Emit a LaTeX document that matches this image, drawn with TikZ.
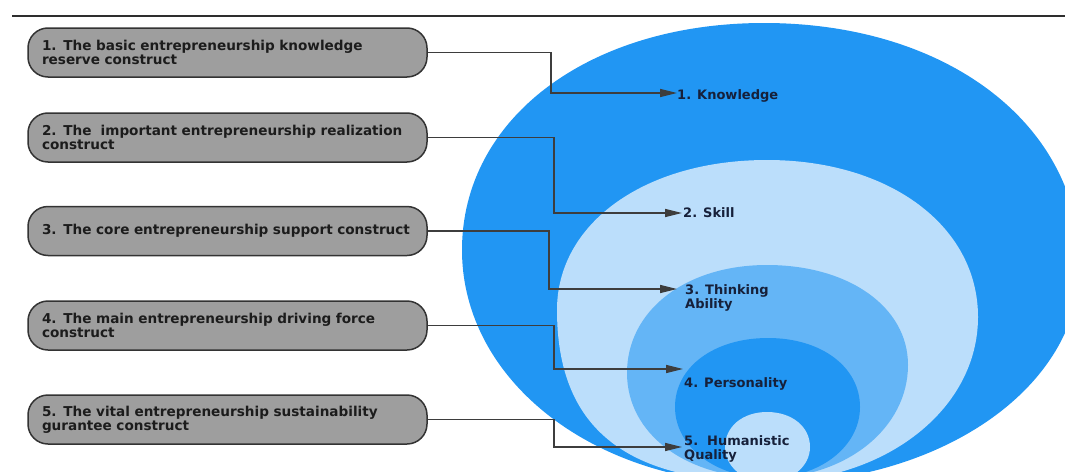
\documentclass[tikz,border=0pt]{standalone}
\usepackage{fontspec}
\setmainfont{DejaVu Sans}
\usetikzlibrary{arrows.meta}

\definecolor{blueA}{HTML}{2196F3}
\definecolor{blueB}{HTML}{BBDEFB}
\definecolor{blueC}{HTML}{64B5F6}
\definecolor{boxfill}{HTML}{9E9E9E}
\definecolor{boxline}{HTML}{333333}
\definecolor{boxtext}{HTML}{1C1C1C}
\definecolor{lbltext}{HTML}{16203A}
\definecolor{connline}{HTML}{3D3D3D}
\definecolor{rulecol}{HTML}{2E2E2E}

% Egg-shaped blob from four extreme points:
% #1 colour, #2/#3 top point, #4/#5 left point, #6/#7 right point,
% #8 bottom y (bottom x = top x), #9 fullness of the lower-left quarter
\newcommand{\eggshape}[9]{%
  \fill[#1] (#2,#3)
    .. controls ({#2-0.58*(#2-#4)},#3) and (#4,{#5-0.58*(#5-#3)}) .. (#4,#5)
    .. controls (#4,{#5+#9*(#8-#5)}) and ({#2-#9*(#2-#4)},#8) .. (#2,#8)
    .. controls ({#2+0.56*(#6-#2)},#8) and (#6,{#7+0.56*(#8-#7)}) .. (#6,#7)
    .. controls (#6,{#7-0.58*(#7-#3)}) and ({#2+0.58*(#6-#2)},#3) .. (#2,#3) -- cycle;}

\begin{document}
\begin{tikzpicture}[x=1pt,y=-1pt,
  box/.style={draw=boxline, line width=1.5pt, fill=boxfill, rounded corners=20pt,
    minimum height=49pt, text width=371pt, inner xsep=14pt, inner ysep=0pt,
    align=left, text=boxtext, font=\fontsize{13.6}{14}\selectfont\bfseries},
  lbl/.style={inner sep=0pt, align=left, text=lbltext,
    font=\fontsize{13}{14}\selectfont\bfseries},
  conn/.style={draw=connline, line width=1.6pt, -{Triangle[length=17pt,width=8pt]}},
  rule/.style={draw=rulecol, line width=1.5pt}]

\useasboundingbox (0,0) rectangle (1065,471);
\clip (0,0) rectangle (1065,471);

% nested layers
\eggshape{blueA}{764}{23}{462}{250}{1080}{265}{484}{0.56}
\eggshape{blueB}{767}{160}{557}{310}{978}{317}{482}{0.68}
\eggshape{blueC}{767}{265}{627}{373}{908}{365}{478}{0.58}
\eggshape{blueA}{768}{338}{675}{407}{860}{407}{478}{0.56}
\eggshape{blueB}{767}{412}{725}{447}{810}{447}{482}{0.56}

% header rule
\draw[rule] (12,16) -- (1065,16);

% construct boxes
\node[box] (b1) at (227.5,52.5) {1. The basic entrepreneurship knowledge\\reserve construct};
\node[box] (b2) at (227.5,137.5) {2. The\ \ important entrepreneurship realization\\construct};
\node[box] (b3) at (227.5,231) {3. The core entrepreneurship support construct};
\node[box] (b4) at (227.5,325.5) {4. The main entrepreneurship driving force\\construct};
\node[box] (b5) at (227.5,419.5) {5. The vital entrepreneurship sustainability\\gurantee construct};

% layer labels
\node[lbl, anchor=base west] (l1) at (677,99.7) {1. Knowledge};
\node[lbl, anchor=base west] (l2) at (683,217.7) {2. Skill};
\node[lbl, anchor=north west] (l3) at (685,284.8) {3. Thinking\\Ability};
\node[lbl, anchor=base west] (l4) at (684,387.7) {4. Personality};
\node[lbl, anchor=north west] (l5) at (684,435.8) {5.\ \ Humanistic\\Quality};

% connectors
\draw[conn] (b1.east) -- ++(123,0) |- ([yshift=6.7pt]l1.base west);
\draw[conn] (b2.east) -- ++(126,0) |- ([xshift=-1pt,yshift=4.7pt]l2.base west);
\draw[conn] (b3.east) -- ++(121,0) |- ([xshift=-8pt,yshift=-4.2pt]l3.north west);
\draw[conn] (b4.east) -- ++(126,0) |- ([xshift=-1pt,yshift=18.7pt]l4.base west);
\draw[conn] (b5.east) -- ++(126,0) |- ([xshift=-2pt,yshift=-11.2pt]l5.north west);
\end{tikzpicture}
\end{document}
